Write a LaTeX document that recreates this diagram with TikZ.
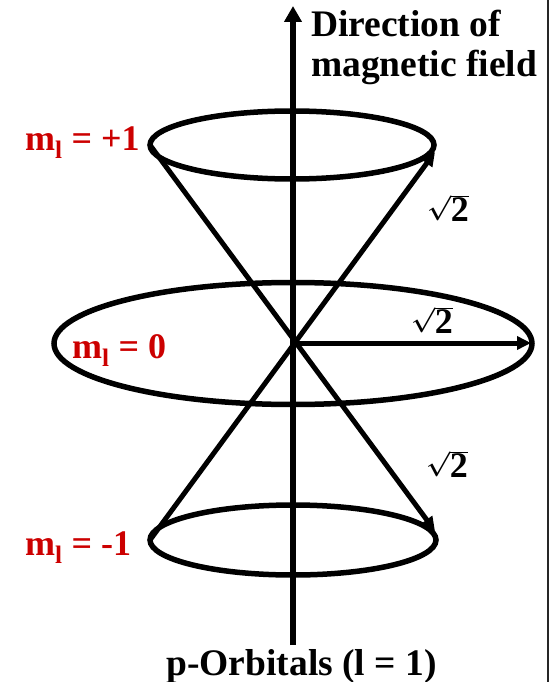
\documentclass[tikz,border=0pt]{standalone}
\usepackage{fontspec}
\setmainfont{Liberation Serif}
\usetikzlibrary{arrows.meta,shapes.geometric}
\definecolor{lblred}{RGB}{204,0,0}
\tikzset{
  orb/.style={draw=black,line width=5.5pt,shape=ellipse,inner sep=0pt,outer sep=0pt},
  conearrow/.style={draw=black,line width=5pt,-{Triangle[length=14pt,width=13pt]}},
  axisarrow/.style={draw=black,line width=6.5pt,-{Triangle[length=16pt,width=17pt]}},
  mlab/.style={text=lblred,font=\bfseries\fontsize{36}{40}\selectfont,inner sep=0pt},
  blab/.style={text=black,font=\bfseries\fontsize{37.5}{40}\selectfont,inner sep=0pt,align=left},
  rlab/.style={text=black,font=\fontsize{36}{40}\selectfont\boldmath,inner sep=0pt}
}
\begin{document}
\begin{tikzpicture}[x=1pt,y=-1pt]
\useasboundingbox (0,0) rectangle (554,682);
% frame line at right
\coordinate (fr1) at (548,0);
\coordinate (fr2) at (548,682);
\draw[line width=2pt,black!85] (fr1) -- (fr2);
% ellipses
\node[orb,minimum width=284pt,minimum height=68pt] (top) at (292,145) {};
\node[orb,minimum width=478pt,minimum height=122pt] (mid) at (293,343.5) {};
\node[orb,minimum width=286pt,minimum height=70pt] (bot) at (293,540) {};
% axis
\coordinate (c) at (293,343);
\coordinate (axbot) at (293,645);
\coordinate (axtop) at (293,6);
\draw[axisarrow] (axbot) -- (axtop);
% cones
\coordinate (tipTR) at (435,152);
\coordinate (tipBR) at (435,531);
\coordinate (tipR) at (531,343);
\draw[conearrow] (top.west) -- (tipBR);
\draw[conearrow] (bot.west) -- (tipTR);
\draw[conearrow] (c) -- (tipR);
% labels
\node[mlab,anchor=base west] (l1) at (25,150) {m\textsubscript{l} = +1};
\node[mlab,anchor=base west] (l0) at (72,358) {m\textsubscript{l} = 0};
\node[mlab,anchor=base west] (lm1) at (25,555) {m\textsubscript{l} = -1};
\node[blab,anchor=base west] (dir1) at (311,37) {Direction of};
\node[blab,anchor=base west] (dir2) at (311,77) {magnetic field};
\node[blab,anchor=base] (por) at (301.5,675) {p-Orbitals (l = 1)};
\node[rlab] (s1) at (448,208) {$\sqrt{\mbox{\bfseries 2}}$};
\node[rlab] (s2) at (432,320) {$\sqrt{\mbox{\bfseries 2}}$};
\node[rlab] (s3) at (447,464) {$\sqrt{\mbox{\bfseries 2}}$};
\end{tikzpicture}
\end{document}
